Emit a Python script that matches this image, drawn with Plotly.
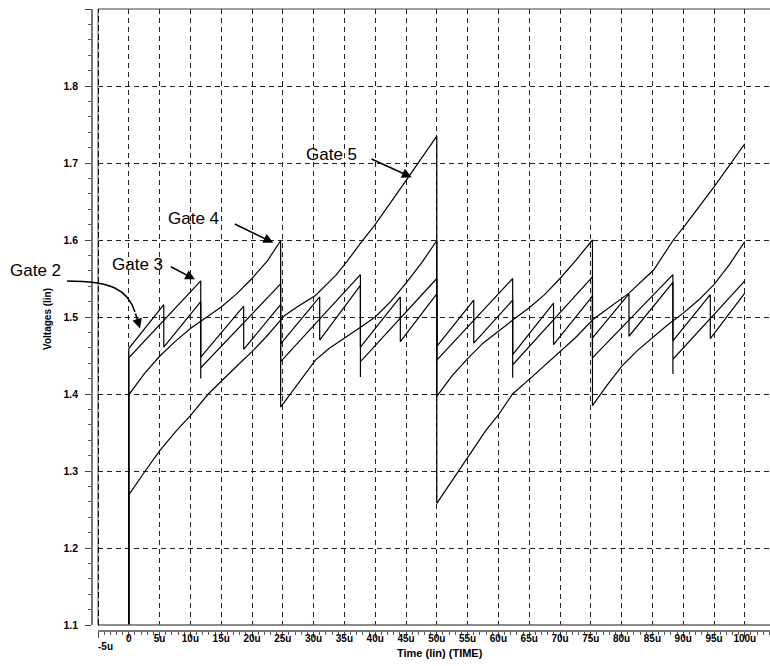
import plotly.graph_objects as go

# ---------------------------------------------------------------------------
# Transient simulation of the gate node voltages (time in microseconds, volts)
# ---------------------------------------------------------------------------
gate2_t = [0, 0, 5.68, 5.68, 11.68, 11.68, 18.65, 18.65, 24.65, 24.65, 30.99, 30.99,
           37.6, 37.6, 44.08, 44.08, 50.0, 50.0, 56.0, 56.0, 62.32, 62.32, 68.95, 68.95,
           75.27, 75.27, 81.2, 81.2, 88.33, 88.33, 94.4, 94.4, 100]
gate2_v = [0.0, 1.459, 1.516, 1.461, 1.520, 1.448, 1.514, 1.458, 1.516, 1.465, 1.526, 1.470,
           1.541, 1.461, 1.526, 1.468, 1.530, 1.462, 1.522, 1.466, 1.522, 1.451, 1.518, 1.464,
           1.527, 1.473, 1.530, 1.475, 1.545, 1.469, 1.529, 1.472, 1.531]

gate3_t = [0, 0, 11.68, 11.68, 11.68, 24.65, 24.65, 37.6, 37.6, 37.6, 50.0, 50.0,
           62.32, 62.32, 62.32, 75.27, 75.27, 88.33, 88.33, 88.33, 100]
gate3_v = [0.0, 1.447, 1.547, 1.420, 1.434, 1.543, 1.442, 1.555, 1.422, 1.442, 1.550, 1.444,
           1.550, 1.421, 1.438, 1.552, 1.447, 1.555, 1.426, 1.445, 1.547]

gate4_t = [0, 0, 2.5, 5, 7.5, 10, 12.5, 15, 17.5, 20, 22.5, 24.65,
           24.65, 27.5, 30.3, 32.5, 35, 37.5, 40, 42.5, 45, 47.5, 50,
           50, 52.5, 55, 57.5, 60, 62.5, 65, 67.5, 70, 72.5, 75.27,
           75.27, 77.5, 80, 82.5, 85, 87.5, 90, 92.5, 95, 97.5, 100]
gate4_v = [0.0, 1.399, 1.426, 1.449, 1.468, 1.485, 1.499, 1.513, 1.530, 1.550, 1.573, 1.599,
           1.383, 1.414, 1.444, 1.459, 1.472, 1.486, 1.500, 1.520, 1.544, 1.570, 1.599,
           1.397, 1.424, 1.446, 1.466, 1.482, 1.497, 1.512, 1.529, 1.550, 1.573, 1.600,
           1.385, 1.410, 1.436, 1.456, 1.473, 1.490, 1.505, 1.522, 1.542, 1.568, 1.598]

gate5_t = [0, 0, 2.66, 5, 7.7, 10, 12.9, 15, 17.5, 20, 22.5, 25.3, 27.5, 30.3, 33.6,
           35.5, 37.9, 39.9, 42.5, 45, 47.5, 50,
           50, 52.5, 55, 58, 60, 62.3, 65, 68.8, 72.5, 75.4, 78, 81.2, 85.2,
           88.4, 90.3, 92.5, 95, 97.5, 100]
gate5_v = [0.0, 1.269, 1.300, 1.326, 1.352, 1.372, 1.400, 1.417, 1.436, 1.455, 1.476, 1.502,
           1.514, 1.528, 1.554, 1.573, 1.599, 1.619, 1.648, 1.677, 1.706, 1.735,
           1.258, 1.288, 1.318, 1.353, 1.373, 1.400, 1.419, 1.447, 1.473, 1.497, 1.512,
           1.531, 1.561, 1.600, 1.619, 1.642, 1.669, 1.697, 1.725]

x_tick_vals = [-5, 0, 5, 10, 15, 20, 25, 30, 35, 40, 45, 50, 55, 60, 65, 70, 75, 80, 85, 90, 95, 100]
x_tick_text = ["", "0", "5u", "10u", "15u", "20u", "25u", "30u", "35u", "40u", "45u", "50u",
               "55u", "60u", "65u", "70u", "75u", "80u", "85u", "90u", "95u", "100u"]
y_tick_vals = [1.1, 1.2, 1.3, 1.4, 1.5, 1.6, 1.7, 1.8, 1.9]
y_tick_text = ["1.1", "1.2", "1.3", "1.4", "1.5", "1.6", "1.7", "1.8", ""]

# ---------------------------------------------------------------------------
# Page geometry (pixels)
# ---------------------------------------------------------------------------
W, H = 770, 666
ML, MR, MT, MB = 92, 0, 9, 35
PW, PH = W - ML - MR, H - MT - MB


def px(X):
    return (X - ML) / PW


def py(Y):
    return (H - MB - Y) / PH


FONT = "Liberation Sans"
GRID = "#222222"

fig = go.Figure()
for tt, vv in [(gate2_t, gate2_v), (gate3_t, gate3_v), (gate4_t, gate4_v), (gate5_t, gate5_v)]:
    fig.add_trace(go.Scatter(x=tt, y=vv, mode="lines",
                             line=dict(color="black", width=1.2),
                             hoverinfo="skip", showlegend=False))

fig.update_layout(
    width=W, height=H,
    margin=dict(l=ML, r=MR, t=MT, b=MB, pad=0),
    paper_bgcolor="white", plot_bgcolor="white",
    showlegend=False,
    xaxis=dict(
        domain=[px(98), 1], range=[-5, -5 + 672 / 6.16],
        anchor="free", position=0,
        showline=True, linecolor="#777777", linewidth=1.5,
        ticks="outside", ticklen=6, tickwidth=1.2, tickcolor="#444444",
        tickmode="array", tickvals=x_tick_vals, ticktext=x_tick_text,
        tickfont=dict(family=FONT, size=10, color="black", weight="bold"),
        ticklabelstandoff=-8,
        showgrid=True, gridcolor=GRID, gridwidth=1, griddash="5px,4px",
        zeroline=False,
        minor=dict(tickmode="linear", tick0=0, dtick=1, ticks="outside",
                   ticklen=3, tickcolor="#555555", showgrid=False),
    ),
    yaxis=dict(
        domain=[py(625), 1], range=[1.1, 1.9],
        anchor="free", position=0,
        showline=True, linecolor="#777777", linewidth=1.5,
        ticks="outside", ticklen=6, tickwidth=1.2, tickcolor="#444444",
        tickmode="array", tickvals=y_tick_vals, ticktext=y_tick_text,
        tickfont=dict(family=FONT, size=10.5, color="black", weight="bold"),
        ticklabelstandoff=5,
        showgrid=True, gridcolor=GRID, gridwidth=1, griddash="5px,4px",
        zeroline=False,
        minor=dict(tickmode="linear", tick0=1.1, dtick=0.02, ticks="outside",
                   ticklen=3, tickcolor="#555555", showgrid=False),
    ),
)

# frame of the plotting area
frame = [
    dict(x0=0, x1=1, y0=0, y1=0, color="#666666", width=1.5),
    dict(x0=0, x1=1, y0=1, y1=1, color="#444444", width=1.2),
    dict(x0=0, x1=0, y0=0, y1=1, color="#888888", width=1.5),
]
for f in frame:
    fig.add_shape(type="line", xref="x domain", yref="y domain",
                  x0=f["x0"], x1=f["x1"], y0=f["y0"], y1=f["y1"],
                  line=dict(color=f["color"], width=f["width"]))
fig.add_shape(type="line", xref="x", yref="y domain", x0=-5, x1=-5, y0=0, y1=1,
              line=dict(color="black", width=2, dash="6px,3px"))

# curved leader for the Gate 2 label
pts = [(67, 281), (112, 281), (128, 290), (135, 312)]
p = [(px(X), py(Y)) for X, Y in pts]
path = "M {:.5f} {:.5f} C {:.5f} {:.5f}, {:.5f} {:.5f}, {:.5f} {:.5f}".format(
    p[0][0], p[0][1], p[1][0], p[1][1], p[2][0], p[2][1], p[3][0], p[3][1])
fig.add_shape(type="path", xref="paper", yref="paper", path=path,
              line=dict(color="black", width=1.5))

# gate labels
labels = [("Gate 2", 35.5, 270), ("Gate 3", 137.5, 264), ("Gate 4", 193.5, 219), ("Gate 5", 331, 154)]
for txt, X, Y in labels:
    fig.add_annotation(text=txt, x=px(X), y=py(Y), xref="paper", yref="paper",
                       showarrow=False, xanchor="center", yanchor="middle",
                       font=dict(family=FONT, size=17, color="black"))

# straight arrows: (tip X, tip Y, tail X, tail Y)
arrows = [(140, 328.5, 135, 312), (195, 279.3, 169.3, 266),
          (273.3, 242.7, 233.3, 223.3), (411.7, 177.3, 370, 158.3)]
for tx, ty, sx, sy in arrows:
    fig.add_annotation(text="", x=px(tx), y=py(ty), xref="paper", yref="paper",
                       ax=sx - tx, ay=sy - ty, axref="pixel", ayref="pixel",
                       showarrow=True, arrowhead=2, arrowsize=1.3, arrowwidth=1.5,
                       arrowcolor="black", standoff=0, startstandoff=0)

# axis titles and the offset first tick label
fig.add_annotation(text="Time (lin) (TIME)", x=px(440), y=py(653), xref="paper", yref="paper",
                   showarrow=False, xanchor="center", yanchor="middle",
                   font=dict(family=FONT, size=11, color="black", weight="bold"))
fig.add_annotation(text="Voltages (lin)", x=px(47), y=py(319), xref="paper", yref="paper",
                   showarrow=False, textangle=-90, xanchor="center", yanchor="middle",
                   font=dict(family=FONT, size=10, color="black", weight="bold"))
fig.add_annotation(text="-5u", x=px(105), y=py(646), xref="paper", yref="paper",
                   showarrow=False, xanchor="center", yanchor="middle",
                   font=dict(family=FONT, size=10, color="black", weight="bold"))

fig.write_html("out.html")
